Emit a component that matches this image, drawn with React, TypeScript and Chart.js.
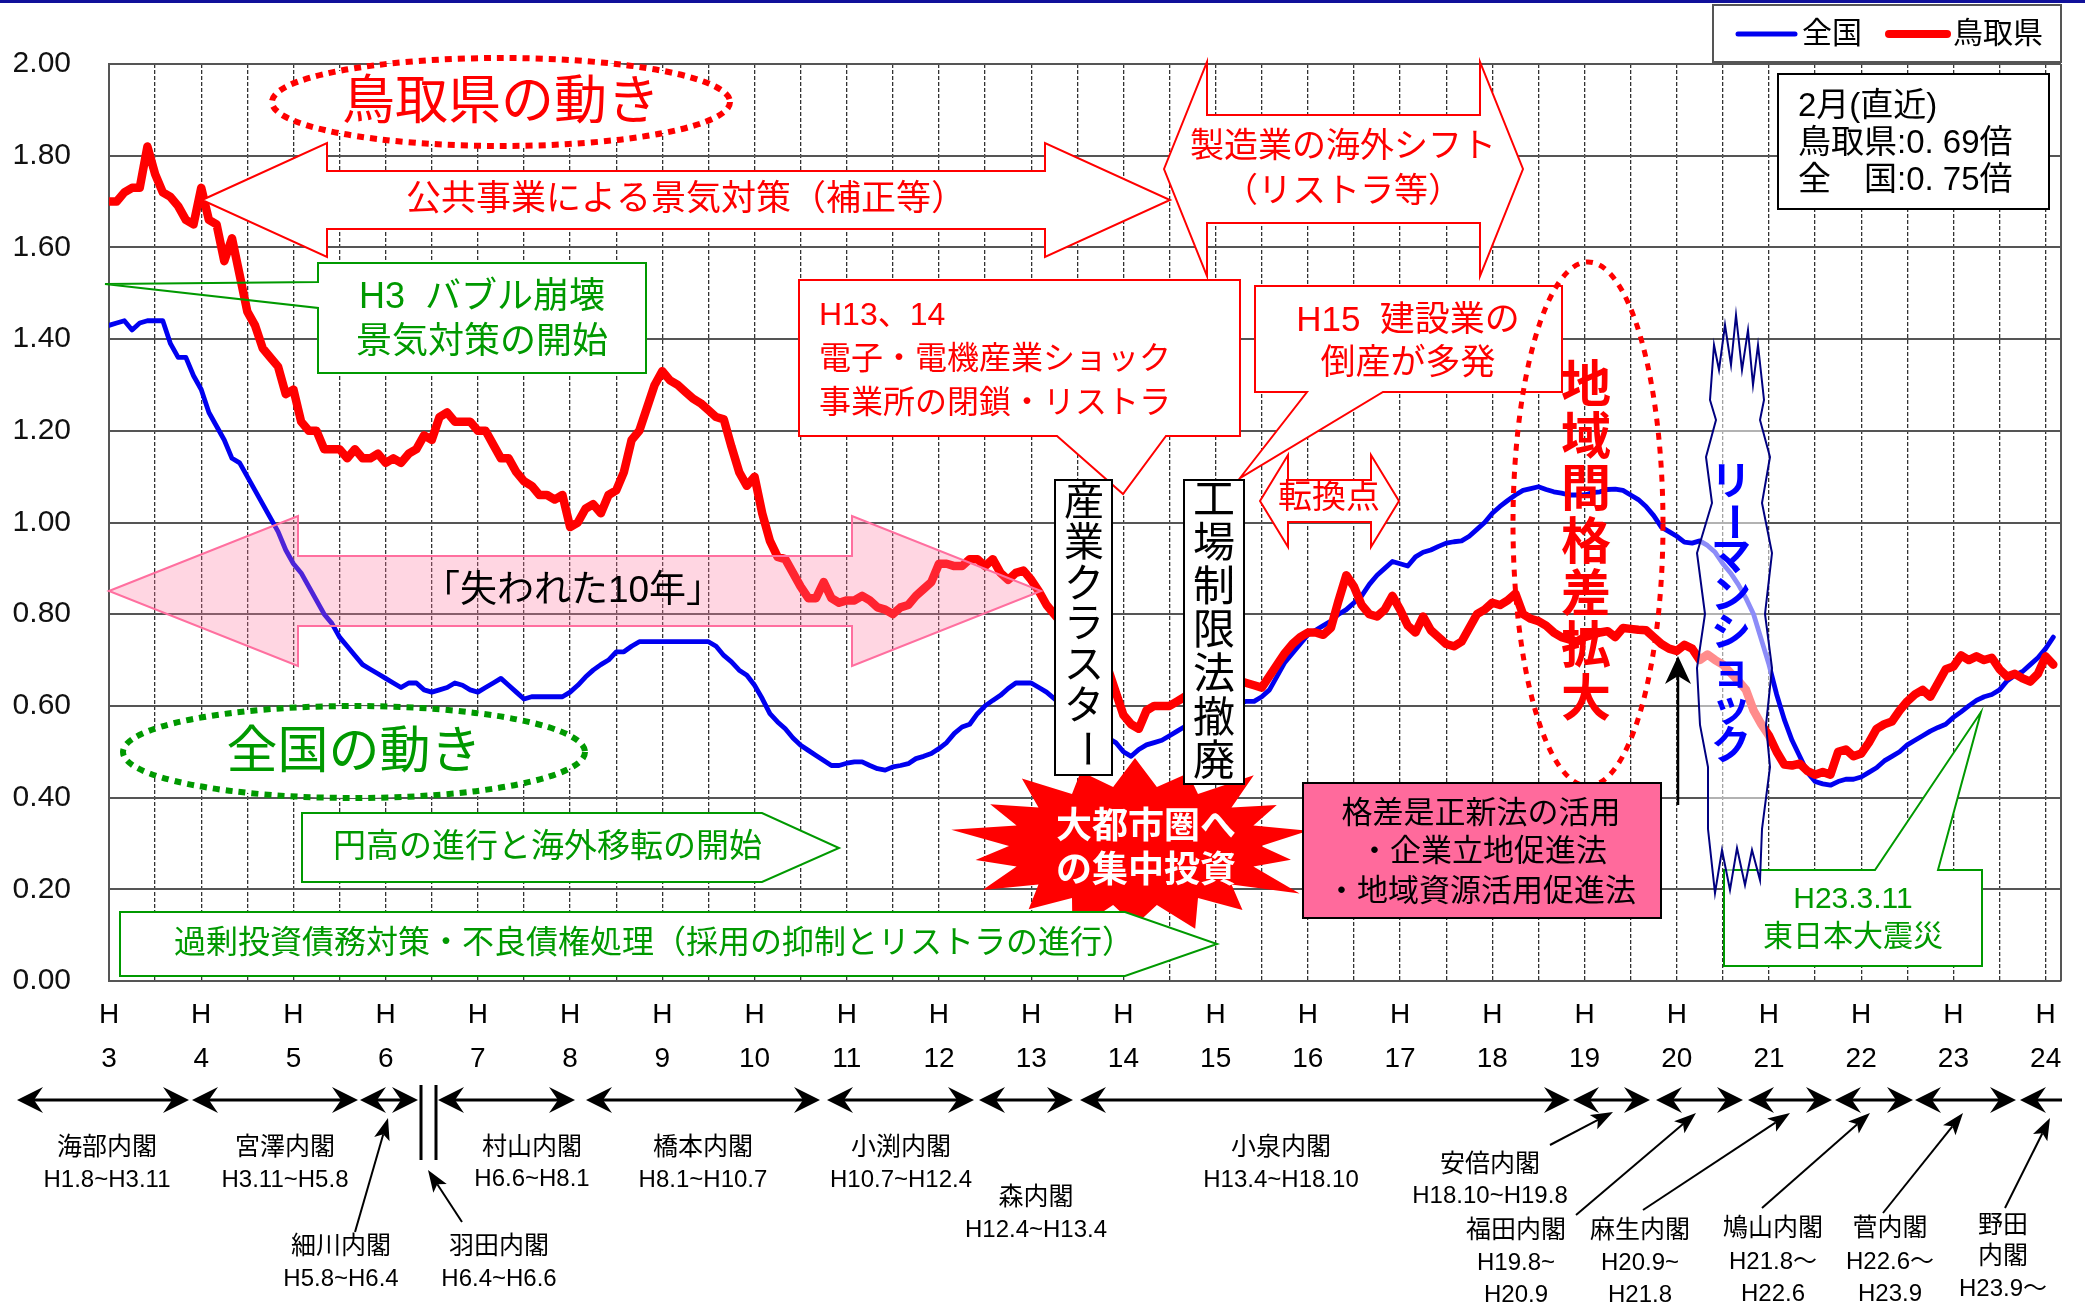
import React, { useEffect, useRef } from 'react';
import { Chart, registerables } from 'chart.js';

Chart.register(...registerables);

// ---------------- data ----------------
// Monthly values from H3.1 (index 0) to H24.2 (index 253)
const YEAR_LABELS = ['3', '4', '5', '6', '7', '8', '9', '10', '11', '12', '13', '14', '15', '16', '17', '18', '19', '20', '21', '22', '23', '24'];
const SERIES_LABELS = ['全国', '鳥取県'];
const SERIES_COLORS = ['#0000f0', '#ff0000'];

const NATIONAL = [
  1.43, 1.435, 1.44, 1.42, 1.435, 1.44, 1.44, 1.44, 1.39, 1.36, 1.36, 1.32,
  1.29, 1.24, 1.21, 1.18, 1.14, 1.13, 1.10, 1.07, 1.04, 1.01, 0.98, 0.94,
  0.91, 0.89, 0.86, 0.83, 0.80, 0.78, 0.75, 0.73, 0.71, 0.69, 0.68, 0.67,
  0.66, 0.65, 0.64, 0.65, 0.65, 0.635, 0.63, 0.635, 0.64, 0.65, 0.645, 0.635,
  0.63, 0.64, 0.65, 0.66, 0.645, 0.63, 0.615, 0.62, 0.62, 0.62, 0.62, 0.62,
  0.63, 0.645, 0.663, 0.678, 0.69, 0.70, 0.718, 0.718, 0.73, 0.74, 0.74, 0.74,
  0.74, 0.74, 0.74, 0.74, 0.74, 0.74, 0.74, 0.73, 0.71, 0.696, 0.678, 0.667,
  0.645, 0.616, 0.583, 0.565, 0.55, 0.53, 0.514, 0.503, 0.492, 0.481, 0.47, 0.47,
  0.475, 0.478, 0.478, 0.47, 0.463, 0.46, 0.467, 0.47, 0.474, 0.485, 0.49, 0.496,
  0.507, 0.52, 0.54, 0.554, 0.56, 0.583, 0.60, 0.612, 0.623, 0.638, 0.65, 0.65,
  0.65, 0.64, 0.63, 0.616, 0.60, 0.59, 0.575, 0.56, 0.55, 0.54, 0.53, 0.52,
  0.50, 0.49, 0.505, 0.515, 0.52, 0.525, 0.535, 0.545, 0.555, 0.56, 0.565, 0.575,
  0.585, 0.59, 0.60, 0.605, 0.61, 0.61, 0.62, 0.635, 0.665, 0.695, 0.715, 0.735,
  0.755, 0.765, 0.775, 0.785, 0.80, 0.81, 0.825, 0.84, 0.865, 0.885, 0.90, 0.915,
  0.91, 0.905, 0.925, 0.935, 0.94, 0.948, 0.955, 0.958, 0.96, 0.97, 0.985, 1.0,
  1.02, 1.035, 1.048, 1.06, 1.07, 1.074, 1.078, 1.072, 1.067, 1.064, 1.06, 1.06,
  1.06, 1.065, 1.067, 1.072, 1.073, 1.07, 1.06, 1.05, 1.035, 1.015, 0.99, 0.98,
  0.97, 0.957, 0.955, 0.96, 0.95, 0.935, 0.91, 0.89, 0.865, 0.835, 0.80, 0.745,
  0.69, 0.625, 0.57, 0.525, 0.49, 0.455, 0.435, 0.43, 0.427, 0.435, 0.44, 0.44,
  0.445, 0.455, 0.465, 0.48, 0.49, 0.50, 0.515, 0.525, 0.535, 0.545, 0.553, 0.56,
  0.575, 0.587, 0.60, 0.612, 0.62, 0.625, 0.635, 0.655, 0.667, 0.675, 0.69, 0.705,
  0.725, 0.75,
];

const TOTTORI = [
  1.70, 1.70, 1.72, 1.73, 1.73, 1.82, 1.76, 1.72, 1.71, 1.69, 1.66, 1.65,
  1.73, 1.66, 1.65, 1.57, 1.62, 1.54, 1.46, 1.43, 1.38, 1.36, 1.34, 1.28,
  1.29, 1.22, 1.20, 1.20, 1.16, 1.16, 1.16, 1.14, 1.16, 1.14, 1.14, 1.15,
  1.13, 1.14, 1.13, 1.15, 1.16, 1.19, 1.18, 1.23, 1.24, 1.22, 1.22, 1.22,
  1.20, 1.20, 1.17, 1.14, 1.14, 1.11, 1.09, 1.08, 1.06, 1.06, 1.05, 1.06,
  0.99, 1.00, 1.03, 1.04, 1.02, 1.06, 1.07, 1.11, 1.18, 1.20, 1.25, 1.30,
  1.33, 1.31, 1.30, 1.285, 1.27, 1.26, 1.245, 1.23, 1.225, 1.165, 1.11, 1.08,
  1.10, 1.02, 0.96, 0.925, 0.92, 0.89, 0.86, 0.835, 0.835, 0.87, 0.835, 0.825,
  0.83, 0.83, 0.84, 0.83, 0.815, 0.81, 0.80, 0.815, 0.82, 0.84, 0.855, 0.87,
  0.91, 0.91, 0.905, 0.905, 0.92, 0.92, 0.905, 0.92, 0.89, 0.875, 0.89, 0.895,
  0.875, 0.85, 0.82, 0.80, 0.78, 0.75, 0.72, 0.70, 0.69, 0.70, 0.68, 0.63,
  0.58, 0.56, 0.55, 0.59, 0.60, 0.60, 0.60, 0.61, 0.62, 0.625, 0.63, 0.635,
  0.64, 0.645, 0.65, 0.655, 0.65, 0.645, 0.64, 0.665, 0.69, 0.715, 0.735, 0.75,
  0.76, 0.76, 0.755, 0.77, 0.83, 0.885, 0.86, 0.82, 0.80, 0.795, 0.81, 0.84,
  0.81, 0.775, 0.76, 0.795, 0.765, 0.75, 0.735, 0.73, 0.74, 0.77, 0.80, 0.81,
  0.825, 0.82, 0.83, 0.845, 0.80, 0.79, 0.785, 0.775, 0.76, 0.75, 0.745, 0.74,
  0.75, 0.755, 0.76, 0.763, 0.75, 0.77, 0.768, 0.766, 0.765, 0.75, 0.735, 0.725,
  0.72, 0.733, 0.725, 0.70, 0.712, 0.70, 0.69, 0.672, 0.655, 0.635, 0.59, 0.56,
  0.535, 0.50, 0.472, 0.47, 0.474, 0.458, 0.45, 0.456, 0.45, 0.50, 0.505, 0.49,
  0.496, 0.52, 0.55, 0.56, 0.566, 0.59, 0.61, 0.625, 0.635, 0.62, 0.65, 0.68,
  0.686, 0.71, 0.70, 0.708, 0.70, 0.705, 0.68, 0.664, 0.67, 0.66, 0.653, 0.67,
  0.708, 0.69,
];

// ---------------- drawing helpers ----------------
const W = 2085;
const H = 1305;
const FONT = '"Liberation Sans", "Noto Sans CJK JP", sans-serif';
const RED = '#ff0000';
const GREEN = '#009900';
const font = (size: number, weight = 'normal') => `${weight} ${size}px ${FONT}`;

function txt(ctx: any, s: string, x: number, y: number, size: number, color: string, align = 'center', weight = 'normal') {
  ctx.save();
  ctx.font = font(size, weight);
  ctx.fillStyle = color;
  ctx.textAlign = align;
  ctx.textBaseline = 'middle';
  ctx.fillText(s, x, y);
  ctx.restore();
}

function vtxt(ctx: any, s: string, x: number, y0: number, step: number, size: number, color: string, weight = 'normal') {
  ctx.save();
  ctx.font = font(size, weight);
  ctx.fillStyle = color;
  ctx.textAlign = 'center';
  ctx.textBaseline = 'middle';
  Array.from(s).forEach((ch, i) => {
    const y = y0 + i * step;
    if (ch === 'ー') {
      ctx.save();
      ctx.translate(x, y);
      ctx.rotate(Math.PI / 2);
      ctx.fillText(ch, 0, 0);
      ctx.restore();
    } else {
      ctx.fillText(ch, x, y);
    }
  });
  ctx.restore();
}

function path(ctx: any, pts: number[][]) {
  ctx.beginPath();
  pts.forEach(([x, y], i) => (i ? ctx.lineTo(x, y) : ctx.moveTo(x, y)));
  ctx.closePath();
}

function poly(ctx: any, pts: number[][], fill: string | null, stroke: string | null, lw = 2) {
  ctx.save();
  path(ctx, pts);
  if (fill) {
    ctx.fillStyle = fill;
    ctx.fill();
  }
  if (stroke) {
    ctx.lineWidth = lw;
    ctx.strokeStyle = stroke;
    ctx.lineJoin = 'miter';
    ctx.stroke();
  }
  ctx.restore();
}

function dblArrow(xl: number, xr: number, cy: number, headL: number, headH: number, bodyH: number) {
  return [
    [xl, cy], [xl + headL, cy - headH], [xl + headL, cy - bodyH], [xr - headL, cy - bodyH],
    [xr - headL, cy - headH], [xr, cy], [xr - headL, cy + headH], [xr - headL, cy + bodyH],
    [xl + headL, cy + bodyH], [xl + headL, cy + headH],
  ];
}

function dottedEllipse(ctx: any, cx: number, cy: number, rx: number, ry: number, color: string, lw: number, dash: number[], fill: string | null) {
  ctx.save();
  ctx.beginPath();
  ctx.ellipse(cx, cy, rx, ry, 0, 0, Math.PI * 2);
  if (fill) {
    ctx.fillStyle = fill;
    ctx.fill();
  }
  ctx.setLineDash(dash);
  ctx.lineWidth = lw;
  ctx.strokeStyle = color;
  ctx.stroke();
  ctx.restore();
}

function head(ctx: any, x: number, y: number, ang: number, len: number, half: number, notch: number) {
  ctx.save();
  ctx.translate(x, y);
  ctx.rotate(ang);
  ctx.beginPath();
  ctx.moveTo(0, 0);
  ctx.lineTo(-len, -half);
  ctx.lineTo(-len + notch, 0);
  ctx.lineTo(-len, half);
  ctx.closePath();
  ctx.fillStyle = '#000';
  ctx.fill();
  ctx.restore();
}

function arrowLine(ctx: any, x1: number, y1: number, x2: number, y2: number, lw: number, len: number, half: number, notch: number) {
  const ang = Math.atan2(y2 - y1, x2 - x1);
  ctx.save();
  ctx.strokeStyle = '#000';
  ctx.lineWidth = lw;
  ctx.beginPath();
  ctx.moveTo(x1, y1);
  ctx.lineTo(x2 - Math.cos(ang) * (len - notch), y2 - Math.sin(ang) * (len - notch));
  ctx.stroke();
  ctx.restore();
  head(ctx, x2, y2, ang, len, half, notch);
}

function hDblArrow(ctx: any, x1: number, x2: number, y: number, leftHead = true, rightHead = true) {
  ctx.save();
  ctx.strokeStyle = '#000';
  ctx.lineWidth = 3;
  ctx.beginPath();
  ctx.moveTo(x1 + (leftHead ? 12 : 0), y);
  ctx.lineTo(x2 - (rightHead ? 12 : 0), y);
  ctx.stroke();
  ctx.restore();
  if (leftHead) head(ctx, x1, y, Math.PI, 26, 13, 9);
  if (rightHead) head(ctx, x2, y, 0, 26, 13, 9);
}

function starburst(ctx: any, cx: number, cy: number) {
  const n = 18;
  const k = [1.0, 0.88, 1.05, 0.93, 1.0, 0.9, 1.08, 0.95, 1.0, 0.9, 1.04, 0.94, 1.0, 0.92, 1.06, 0.95, 1.0, 0.9];
  const pts: number[][] = [];
  for (let i = 0; i < n; i++) {
    const a0 = (i / n) * Math.PI * 2 - Math.PI / 2;
    const a1 = ((i + 0.5) / n) * Math.PI * 2 - Math.PI / 2;
    pts.push([cx + 176 * k[i] * Math.cos(a0), cy + 88 * k[i] * Math.sin(a0)]);
    pts.push([cx + 126 * Math.cos(a1), cy + 60 * Math.sin(a1)]);
  }
  poly(ctx, pts, RED, null);
}

const LEHMAN = [
  [1716, 420], [1706, 457], [1712, 503], [1697, 553], [1705, 614], [1697, 668], [1700, 725], [1708, 767],
  [1708, 829], [1715, 893], [1722, 850], [1730, 890], [1737, 848], [1745, 885], [1752, 850], [1760, 880],
  [1762, 829], [1770, 767], [1766, 725], [1772, 668], [1765, 614], [1772, 553], [1762, 503], [1770, 457],
  [1760, 420], [1764, 400], [1758, 345], [1753, 385], [1748, 330], [1742, 370], [1736, 315], [1731, 365],
  [1725, 325], [1719, 370], [1714, 345], [1710, 400],
];

const annotationPlugin = {
  id: 'annotations',
  beforeDatasetsDraw(chart: any) {
    const { ctx, chartArea } = chart;
    ctx.save();
    ctx.strokeStyle = '#555';
    ctx.lineWidth = 2;
    ctx.beginPath();
    ctx.moveTo(chartArea.right, chartArea.top);
    ctx.lineTo(chartArea.right, chartArea.bottom);
    ctx.stroke();
    ctx.restore();
  },
  afterDatasetsDraw(chart: any) {
    const ctx = chart.ctx;

    // 鳥取県の動き
    dottedEllipse(ctx, 501, 102, 229, 44, RED, 6, [7, 6], '#fff');
    txt(ctx, '鳥取県の動き', 501, 104, 53, RED);

    // 公共事業 arrow
    poly(ctx, dblArrow(202, 1170, 200, 125, 57, 29), '#fff', RED, 2);
    txt(ctx, '公共事業による景気対策（補正等）', 686, 200, 35, RED);

    // 製造業の海外シフト arrow
    poly(ctx, dblArrow(1164, 1523, 169, 43, 107, 54), '#fff', RED, 2);
    txt(ctx, '製造業の海外シフト', 1343, 148, 34, RED);
    txt(ctx, '（リストラ等）', 1343, 193, 34, RED);

    // H3 callout (green)
    ctx.save();
    ctx.fillStyle = '#fff';
    ctx.fillRect(318, 263, 328, 110);
    ctx.restore();
    poly(ctx, [[318, 263], [646, 263], [646, 373], [318, 373], [318, 308], [105, 284], [318, 282]], null, GREEN, 2);
    txt(ctx, 'H3  バブル崩壊', 482, 298, 36, GREEN);
    txt(ctx, '景気対策の開始', 482, 343, 36, GREEN);

    // 失われた10年 (pink double arrow)
    poly(ctx, dblArrow(109, 1041, 591, 189, 75, 35), 'rgba(255,120,160,0.30)', '#ff6f9f', 2);
    txt(ctx, '「失われた10年」', 573, 592, 37, '#000');

    // H13,14 callout
    poly(ctx, [[799, 280], [1240, 280], [1240, 436], [1166, 436], [1123, 494], [1057, 436], [799, 436]], '#fff', RED, 2);
    txt(ctx, 'H13、14', 819, 316, 32, RED, 'left');
    txt(ctx, '電子・電機産業ショック', 819, 360, 32, RED, 'left');
    txt(ctx, '事業所の閉鎖・リストラ', 819, 404, 32, RED, 'left');

    // H15 callout
    poly(ctx, [[1255, 286], [1562, 286], [1562, 392], [1383, 392], [1240, 478], [1307, 392], [1255, 392]], '#fff', RED, 2);
    txt(ctx, 'H15  建設業の', 1408, 321, 35, RED);
    txt(ctx, '倒産が多発', 1408, 364, 35, RED);

    // 転換点
    poly(ctx, dblArrow(1260, 1399, 501, 28, 46, 21), '#fff', RED, 2);
    txt(ctx, '転換点', 1329, 499, 34, RED);

    // 大都市圏への集中投資 starburst
    starburst(ctx, 1135, 846);
    txt(ctx, '大都市圏へ', 1146, 828, 36, '#fff', 'center', 'bold');
    txt(ctx, 'の集中投資', 1146, 872, 36, '#fff', 'center', 'bold');

    // vertical boxes
    poly(ctx, [[1055, 480], [1112, 480], [1112, 775], [1055, 775]], '#fff', '#000', 2);
    vtxt(ctx, '産業クラスター', 1084, 504, 40.8, 40, '#000');
    poly(ctx, [[1184, 480], [1244, 480], [1244, 784], [1184, 784]], '#fff', '#000', 2);
    vtxt(ctx, '工場制限法撤廃', 1214, 502, 43.6, 42, '#000');

    // 地域間格差拡大
    dottedEllipse(ctx, 1588, 524, 75, 262, RED, 5, [7, 7], null);
    vtxt(ctx, '地域間格差拡大', 1586, 388, 52.3, 50, RED, 'bold');

    // 格差是正新法 box
    poly(ctx, [[1303, 783], [1661, 783], [1661, 918], [1303, 918]], '#ff6a9c', '#000', 2);
    txt(ctx, '格差是正新法の活用', 1481, 814, 31, '#000');
    txt(ctx, '・企業立地促進法', 1483, 852, 31, '#000');
    txt(ctx, '・地域資源活用促進法', 1481, 892, 31, '#000');

    // black arrow
    arrowLine(ctx, 1678, 805, 1678, 656, 2.5, 28, 13, 8);

    // H23.3.11 callout
    poly(ctx, [[1724, 870], [1875, 870], [1981, 712], [1938, 870], [1982, 870], [1982, 966], [1724, 966]], '#fff', GREEN, 2);
    txt(ctx, 'H23.3.11', 1853, 900, 30, GREEN);
    txt(ctx, '東日本大震災', 1853, 938, 30, GREEN);

    // リーマンショック
    poly(ctx, LEHMAN, 'rgba(255,255,255,0.55)', '#000080', 2);
    vtxt(ctx, 'リーマンショック', 1731, 484, 37.7, 40, '#0000ff', 'bold');

    // 全国の動き
    dottedEllipse(ctx, 354, 752, 231, 46, GREEN, 6, [7, 6], '#fff');
    txt(ctx, '全国の動き', 354, 754, 51, GREEN);

    // green pentagon boxes
    poly(ctx, [[302, 813], [762, 813], [839, 848], [762, 882], [302, 882]], '#fff', GREEN, 2);
    txt(ctx, '円高の進行と海外移転の開始', 333, 848, 33, GREEN, 'left');
    poly(ctx, [[120, 912], [1125, 912], [1217, 944], [1125, 976], [120, 976]], '#fff', GREEN, 2);
    txt(ctx, '過剰投資債務対策・不良債権処理（採用の抑制とリストラの進行）', 174, 944, 32, GREEN, 'left');

    // 2月(直近) box
    poly(ctx, [[1778, 74], [2049, 74], [2049, 209], [1778, 209]], '#fff', '#000', 2);
    txt(ctx, '2月(直近)', 1798, 107, 33, '#000', 'left');
    txt(ctx, '鳥取県:0. 69倍', 1798, 144, 33, '#000', 'left');
    txt(ctx, '全　国:0. 75倍', 1798, 181, 33, '#000', 'left');
  },
  afterDraw(chart: any) {
    const ctx = chart.ctx;
    // top rule
    ctx.save();
    ctx.fillStyle = '#10109a';
    ctx.fillRect(0, 0, W, 3);
    ctx.restore();

    // legend
    poly(ctx, [[1713, 5], [2061, 5], [2061, 62], [1713, 62]], '#fff', '#555', 2);
    const ds = chart.data.datasets;
    const items = [
      { x1: 1738, x2: 1795, tx: 1802, lw: 5 },
      { x1: 1889, x2: 1947, tx: 1953, lw: 8 },
    ];
    items.forEach((it, i) => {
      ctx.save();
      ctx.strokeStyle = ds[i].borderColor;
      ctx.lineWidth = it.lw;
      ctx.lineCap = 'round';
      ctx.beginPath();
      ctx.moveTo(it.x1, 34);
      ctx.lineTo(it.x2, 34);
      ctx.stroke();
      ctx.restore();
      txt(ctx, ds[i].label, it.tx, 35, 30, '#000', 'left');
    });

    // cabinet row
    const spans = [[17, 189], [192, 358], [360, 418], [438, 575], [586, 820], [827, 974], [979, 1073], [1080, 1570],
      [1573, 1650], [1656, 1743], [1748, 1832], [1835, 1913], [1915, 2016]];
    spans.forEach(([a, b]) => hDblArrow(ctx, a, b, 1100));
    hDblArrow(ctx, 2020, 2062, 1100, true, false);
    ctx.save();
    ctx.strokeStyle = '#000';
    ctx.lineWidth = 3;
    ctx.beginPath();
    ctx.moveTo(421, 1085); ctx.lineTo(421, 1160);
    ctx.moveTo(436, 1085); ctx.lineTo(436, 1160);
    ctx.stroke();
    ctx.restore();

    const pointers = [[355, 1232, 388, 1118], [462, 1222, 428, 1170], [1550, 1145, 1613, 1112], [1576, 1215, 1696, 1113],
      [1643, 1210, 1790, 1113], [1762, 1208, 1870, 1113], [1883, 1213, 1963, 1113], [2005, 1208, 2050, 1118]];
    pointers.forEach(([x1, y1, x2, y2]) => arrowLine(ctx, x1, y1, x2, y2, 2, 22, 8, 5));

    const labels: [string, number, number, number][] = [
      ['海部内閣', 107, 1148, 25], ['H1.8~H3.11', 107, 1180, 24],
      ['宮澤内閣', 285, 1148, 25], ['H3.11~H5.8', 285, 1180, 24],
      ['村山内閣', 532, 1148, 25], ['H6.6~H8.1', 532, 1179, 24],
      ['橋本内閣', 703, 1148, 25], ['H8.1~H10.7', 703, 1180, 24],
      ['小渕内閣', 901, 1148, 25], ['H10.7~H12.4', 901, 1180, 24],
      ['森内閣', 1036, 1198, 25], ['H12.4~H13.4', 1036, 1230, 24],
      ['小泉内閣', 1281, 1148, 25], ['H13.4~H18.10', 1281, 1180, 24],
      ['安倍内閣', 1490, 1165, 25], ['H18.10~H19.8', 1490, 1196, 24],
      ['細川内閣', 341, 1247, 25], ['H5.8~H6.4', 341, 1279, 24],
      ['羽田内閣', 499, 1247, 25], ['H6.4~H6.6', 499, 1279, 24],
      ['福田内閣', 1516, 1231, 25], ['H19.8~', 1516, 1263, 24], ['H20.9', 1516, 1295, 24],
      ['麻生内閣', 1640, 1231, 25], ['H20.9~', 1640, 1263, 24], ['H21.8', 1640, 1295, 24],
      ['鳩山内閣', 1773, 1229, 25], ['H21.8～', 1773, 1262, 24], ['H22.6', 1773, 1294, 24],
      ['菅内閣', 1890, 1229, 25], ['H22.6～', 1890, 1262, 24], ['H23.9', 1890, 1294, 24],
      ['野田', 2003, 1226, 25], ['内閣', 2003, 1257, 25], ['H23.9～', 2003, 1289, 24],
    ];
    labels.forEach(([s, x, y, sz]) => txt(ctx, s, x, y, sz, '#000'));
  },
};

export default function App() {
  const ref = useRef<HTMLCanvasElement | null>(null);

  useEffect(() => {
    const canvas = ref.current;
    if (!canvas) return;
    const chart = new Chart(canvas, {
      type: 'line',
      data: {
        datasets: [
          {
            label: SERIES_LABELS[0],
            data: NATIONAL.map((v, i) => ({ x: i, y: v })),
            borderColor: SERIES_COLORS[0],
            borderWidth: 4.8,
            pointRadius: 0,
            tension: 0,
            order: 1,
          },
          {
            label: SERIES_LABELS[1],
            data: TOTTORI.map((v, i) => ({ x: i, y: v })),
            borderColor: SERIES_COLORS[1],
            borderWidth: 8.5,
            pointRadius: 0,
            tension: 0,
            order: 0,
          },
        ],
      },
      options: {
        animation: false,
        responsive: false,
        devicePixelRatio: 1,
        events: [],
        layout: { padding: { top: 64, right: 24, left: 0, bottom: 0 } },
        elements: { line: { borderJoinStyle: 'round', borderCapStyle: 'round' } },
        plugins: { legend: { display: false }, tooltip: { enabled: false }, title: { display: false } },
        scales: {
          x: {
            type: 'linear',
            min: 0,
            max: 254,
            afterFit: (s: any) => { s.height = 324; },
            ticks: {
              stepSize: 6,
              autoSkip: false,
              includeBounds: false,
              maxRotation: 0,
              minRotation: 0,
              maxTicksLimit: 200,
              padding: 13,
              color: '#000',
              font: { family: FONT, size: 28, lineHeight: 1.55 },
              callback: (v: any) => (v % 12 === 0 ? ['H', YEAR_LABELS[v / 12]] : ''),
            },
            grid: { color: '#333', lineWidth: 1.3, drawTicks: false },
            border: { color: '#555', width: 2, dash: [4, 2] },
          },
          y: {
            min: 0,
            max: 2,
            afterFit: (s: any) => { s.width = 109; },
            ticks: {
              stepSize: 0.2,
              padding: 38,
              color: '#111',
              font: { family: FONT, size: 30 },
              callback: (v: any) => Number(v).toFixed(2),
            },
            grid: { color: '#555', lineWidth: 2, drawTicks: false },
            border: { color: '#555', width: 2 },
          },
        },
      },
      plugins: [annotationPlugin],
    } as any);
    return () => chart.destroy();
  }, []);

  return (
    <div style={{ position: 'fixed', left: 0, top: 0, width: W, height: H, background: '#fff' }}>
      <canvas ref={ref} width={W} height={H} style={{ width: W, height: H, display: 'block' }} />
    </div>
  );
}
